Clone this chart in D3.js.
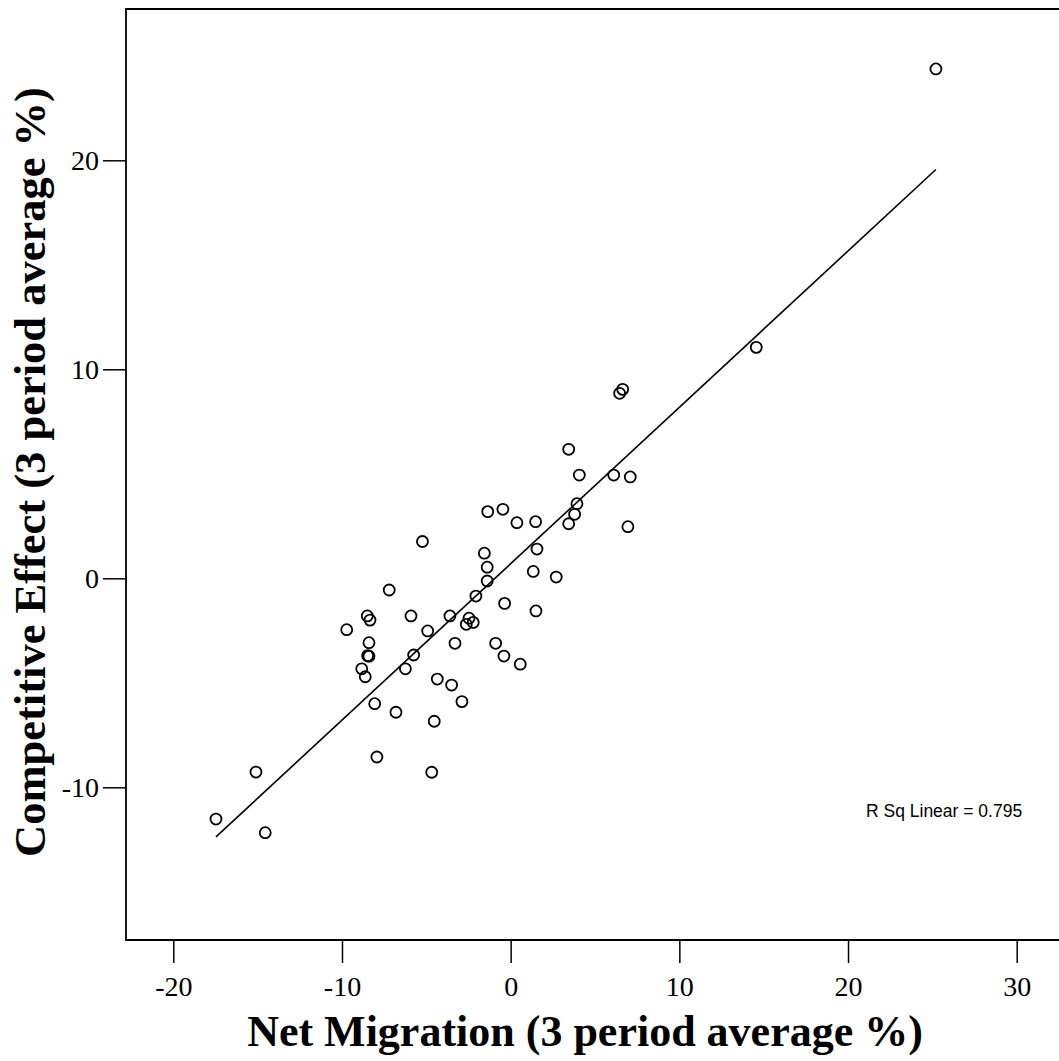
<!DOCTYPE html>
<html>
<head>
<meta charset="utf-8">
<script src="https://cdn.jsdelivr.net/npm/d3@7"></script>
<style>
  html, body { margin: 0; padding: 0; background: #fff; }
  svg { display: block; }
</style>
</head>
<body>
<svg id="chart" width="1059" height="1061"></svg>
<script>
// Net Migration (3 period average %)
const netMigration = [
  25.21, 14.56, 6.64, 6.46, 3.44, 4.07, 6.11, 7.09, 3.93, 3.79,
  3.44, 1.48, 0.37, -0.46, -1.36, 6.95, 1.56, -5.23, -1.56, -1.39,
  1.34, 2.70, -1.39, -7.20, -2.06, -0.36, 1.50, -8.50, -8.34, -5.91,
  -3.60, -2.47, -2.22, -2.63, -9.72, -4.92, -8.40, -3.30, -0.89, -8.48,
  -8.40, -5.75, -0.40, 0.57, -8.83, -6.24, -8.62, -4.35, -3.50, -2.89,
  -8.06, -6.80, -4.53, -7.93, -4.68, -15.10, -17.47, -14.55
];
// Competitive Effect (3 period average %)
const competitiveEffect = [
  24.37, 11.05, 9.04, 8.85, 6.17, 4.94, 4.94, 4.85, 3.57, 3.06,
  2.61, 2.71, 2.66, 3.30, 3.19, 2.47, 1.40, 1.76, 1.20, 0.53,
  0.33, 0.06, -0.13, -0.56, -0.85, -1.20, -1.56, -1.80, -2.00, -1.80,
  -1.80, -1.91, -2.11, -2.20, -2.46, -2.52, -3.08, -3.11, -3.11, -3.70,
  -3.73, -3.67, -3.72, -4.11, -4.33, -4.33, -4.71, -4.82, -5.11, -5.90,
  -6.00, -6.41, -6.84, -8.55, -9.28, -9.27, -11.52, -12.17
];
const xTicks = [-20, -10, 0, 10, 20, 30];
const yTicks = [-10, 0, 10, 20];
const xTitle = "Net Migration (3 period average %)";
const yTitle = "Competitive Effect (3 period average %)";
const rsqLabel = "R Sq Linear = 0.795";

const svg = d3.select("#chart");
const pLeft = 126, pTop = 9, pRight = 1059, pBottom = 940;

const x = d3.scaleLinear().domain([-20, 30]).range([173.3, 1016.7]);
const y = d3.scaleLinear().domain([-10, 20]).range([787.3, 160.3]);

// frame
svg.append("path")
  .attr("d", `M${pRight},${pTop}H${pLeft}V${pBottom}H${pRight}`)
  .attr("fill", "none").attr("stroke", "#000").attr("stroke-width", 1.8);

// axes
const serif = "'Liberation Serif', 'Times New Roman', Times, serif";
const fmt = d => String(d);
const gx = svg.append("g").attr("transform", `translate(0,${pBottom})`)
  .call(d3.axisBottom(x).tickValues(xTicks).tickSize(23).tickPadding(10).tickFormat(fmt));
const gy = svg.append("g").attr("transform", `translate(${pLeft},0)`)
  .call(d3.axisLeft(y).tickValues(yTicks).tickSize(23).tickPadding(4).tickFormat(fmt));
[gx, gy].forEach(g => {
  g.select(".domain").remove();
  g.selectAll(".tick line").attr("stroke", "#000").attr("stroke-width", 1.5);
  g.selectAll(".tick text").attr("fill", "#000")
    .style("font-family", serif).style("font-size", "28px");
});
gx.selectAll(".tick text").attr("dy", null).attr("y", 56);
gy.selectAll(".tick text").attr("dy", "0.34em");

// regression line (least squares from data)
const n = netMigration.length;
const mx = d3.mean(netMigration), my = d3.mean(competitiveEffect);
let sxy = 0, sxx = 0;
for (let i = 0; i < n; i++) {
  sxy += (netMigration[i] - mx) * (competitiveEffect[i] - my);
  sxx += (netMigration[i] - mx) ** 2;
}
const slope = sxy / sxx, intercept = my - slope * mx;
const [xmin, xmax] = d3.extent(netMigration);
svg.append("line")
  .attr("x1", x(xmin)).attr("y1", y(intercept + slope * xmin))
  .attr("x2", x(xmax)).attr("y2", y(intercept + slope * xmax))
  .attr("stroke", "#000").attr("stroke-width", 1.6);

// points
svg.append("g").selectAll("circle")
  .data(d3.range(n))
  .join("circle")
  .attr("cx", i => x(netMigration[i]))
  .attr("cy", i => y(competitiveEffect[i]))
  .attr("r", 5.5)
  .attr("fill", "none").attr("stroke", "#000").attr("stroke-width", 1.8);

// R squared label
svg.append("text")
  .attr("x", 866).attr("y", 817)
  .style("font-family", "'Liberation Sans', Arial, sans-serif")
  .style("font-size", "17.5px")
  .text(rsqLabel);

// axis titles
svg.append("text")
  .attr("x", 585).attr("y", 1046)
  .attr("text-anchor", "middle")
  .style("font-family", serif).style("font-weight", "bold").style("font-size", "44px")
  .text(xTitle);
svg.append("text")
  .attr("transform", "translate(45,472) rotate(-90)")
  .attr("text-anchor", "middle")
  .style("font-family", serif).style("font-weight", "bold").style("font-size", "44.5px")
  .text(yTitle);
</script>
</body>
</html>
